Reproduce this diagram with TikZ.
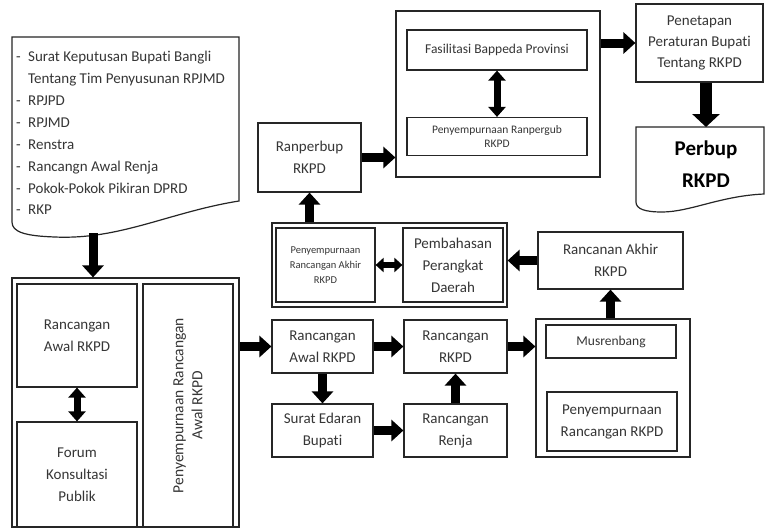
\documentclass[tikz,border=0pt]{standalone}
\usepackage{fontspec}
\setmainfont[Ligatures=NoCommon]{Carlito}
\usetikzlibrary{arrows.meta}
\definecolor{tx}{HTML}{363636}
\definecolor{ln}{HTML}{262626}
\begin{document}
\begin{tikzpicture}[x=1pt,y=-1pt,
  bx/.style={draw=ln, line width=1.2pt, inner sep=2pt, align=center, text=tx,
    font=\fontsize{15}{22}\selectfont},
  wh/.style 2 args={minimum width=#1pt, minimum height=#2pt},
  arr/.style={draw=black, line width=9pt, -{Triangle[length=12pt,width=21pt]}},
  bigarr/.style={draw=black, line width=12pt, -{Triangle[length=13pt,width=27pt]}},
  dar/.style={draw=black, line width=7pt,
    {Triangle[length=10pt,width=17pt]}-{Triangle[length=10pt,width=17pt]}},
  sdar/.style={draw=black, line width=6pt,
    {Triangle[length=8pt,width=14pt]}-{Triangle[length=8pt,width=14pt]}},
  shp/.style={draw=ln, line width=1.2pt}]
\useasboundingbox (0,0) rectangle (765,530);
\fill[white] (0,0) rectangle (765,530);

% source document
\draw[shp] (12,37) -- (239,37) -- (239,201)
  .. controls (170,212) and (120,240) .. (55,237)
  .. controls (25,236) and (12,232) .. (12,222) -- cycle;
\node[anchor=north west, inner sep=0pt, align=left, text=tx,
  font=\fontsize{15}{21.9}\selectfont] (doc) at (16,51)
  {\makebox[12pt][l]{-}Surat Keputusan Bupati Bangli\\
   \hspace*{12pt}Tentang Tim Penyusunan RPJMD\\
   \makebox[12pt][l]{-}RPJPD\\
   \makebox[12pt][l]{-}RPJMD\\
   \makebox[12pt][l]{-}Renstra\\
   \makebox[12pt][l]{-}Rancangn Awal Renja\\
   \makebox[12pt][l]{-}Pokok-Pokok Pikiran DPRD\\
   \makebox[12pt][l]{-}RKP};
\coordinate (dA) at (93,233);

% bottom-left group
\node[bx, wh={227}{249}] (outL) at (125.5,402.5) {};
\node[bx, wh={120}{103}] (rawL) at (77,335.5) {Rancangan\\Awal RKPD};
\node[bx, wh={120}{105}] (forum) at (77,474.5) {Forum\\Konsultasi\\Publik};
\node[bx, wh={90}{243}] (penyV) at (188,405.5) {};
\node[text=tx, align=center, rotate=90, font=\fontsize{15.5}{19}\selectfont]
  (penyVt) at (penyV.center) {Penyempurnaan Rancangan\\Awal RKPD};

% middle group
\node[bx, wh={101}{53}] (rawM) at (322.5,346.5) {Rancangan\\Awal RKPD};
\node[bx, wh={103}{53}] (rrkpd) at (455.5,346.5) {Rancangan\\RKPD};
\node[bx, wh={101}{53}] (surat) at (322.5,430.5) {Surat Edaran\\Bupati};
\node[bx, wh={103}{53}] (renja) at (455.5,430.5) {Rancangan\\Renja};

% right group
\node[bx, wh={154}{138}] (musO) at (613,388) {};
\node[bx, wh={130}{33}, font=\fontsize{13.5}{16}\selectfont] (mus) at (611,341.5) {Musrenbang};
\node[bx, wh={130}{59}] (penyR) at (612,421.5) {Penyempurnaan\\Rancangan RKPD};
\node[bx, wh={145}{57}] (akhir) at (610.5,260.5) {Rancanan Akhir\\RKPD};

% frame group
\node[bx, wh={235}{84}] (frame) at (389.5,265) {};
\node[bx, wh={99}{74}, font=\fontsize{10.5}{15}\selectfont] (penyA) at (325.5,265)
  {Penyempurnaan\\Rancangan Akhir\\RKPD};
\node[bx, wh={100}{74}] (pemb) at (453,265) {Pembahasan\\Perangkat\\Daerah};

% top group
\node[bx, wh={103}{69}] (ranper) at (309.5,157.5) {Ranperbup\\RKPD};
\node[bx, wh={204}{166}] (bigR) at (498,94) {};
\node[bx, wh={180}{40}, font=\fontsize{13.5}{16}\selectfont] (fas) at (497,50)
  {Fasilitasi Bappeda Provinsi};
\node[bx, wh={180}{38}, font=\fontsize{11.5}{13.5}\selectfont] (rpg) at (497,136.5)
  {Penyempurnaan Ranpergub\\RKPD};
\node[bx, wh={127}{78}, font=\fontsize{15}{21}\selectfont] (penet) at (699.5,43)
  {Penetapan\\Peraturan Bupati\\Tentang RKPD};

% result document
\draw[shp] (636,127) -- (764,127) -- (764,194)
  .. controls (720,196) and (690,212) .. (662,212)
  .. controls (645,212) and (636,209) .. (636,202) -- cycle;
\coordinate (pbTop) at (706,127);
\node[text=black, align=center, font=\bfseries\fontsize{21}{32}\selectfont]
  (perbup) at (706,164) {Perbup\\RKPD};

% connectors
\draw[arr] (dA) -- (dA |- outL.north);
\draw[dar] (rawL.south) -- (forum.north);
\draw[arr] (outL.east |- rawM.west) -- (rawM.west);
\draw[arr] (rawM.east) -- (rrkpd.west);
\draw[arr] (rawM.south) -- (surat.north);
\draw[arr] (surat.east) -- (renja.west);
\draw[arr] (renja.north) -- (rrkpd.south);
\draw[arr] (rrkpd.east) -- (musO.west |- rrkpd.east);
\draw[arr] (akhir.south |- musO.north) -- (akhir.south);
\draw[arr] (akhir.west) -- (frame.east |- akhir.west);
\draw[sdar] (penyA.east) -- (pemb.west);
\draw[arr] (frame.north -| ranper.south) -- (ranper.south);
\draw[arr] (ranper.east) -- (bigR.west |- ranper.east);
\draw[dar] (fas.south) -- (rpg.north);
\draw[arr] (bigR.east |- penet.west) -- (penet.west);
\draw[bigarr] (pbTop |- penet.south) -- (pbTop);
\end{tikzpicture}
\end{document}
